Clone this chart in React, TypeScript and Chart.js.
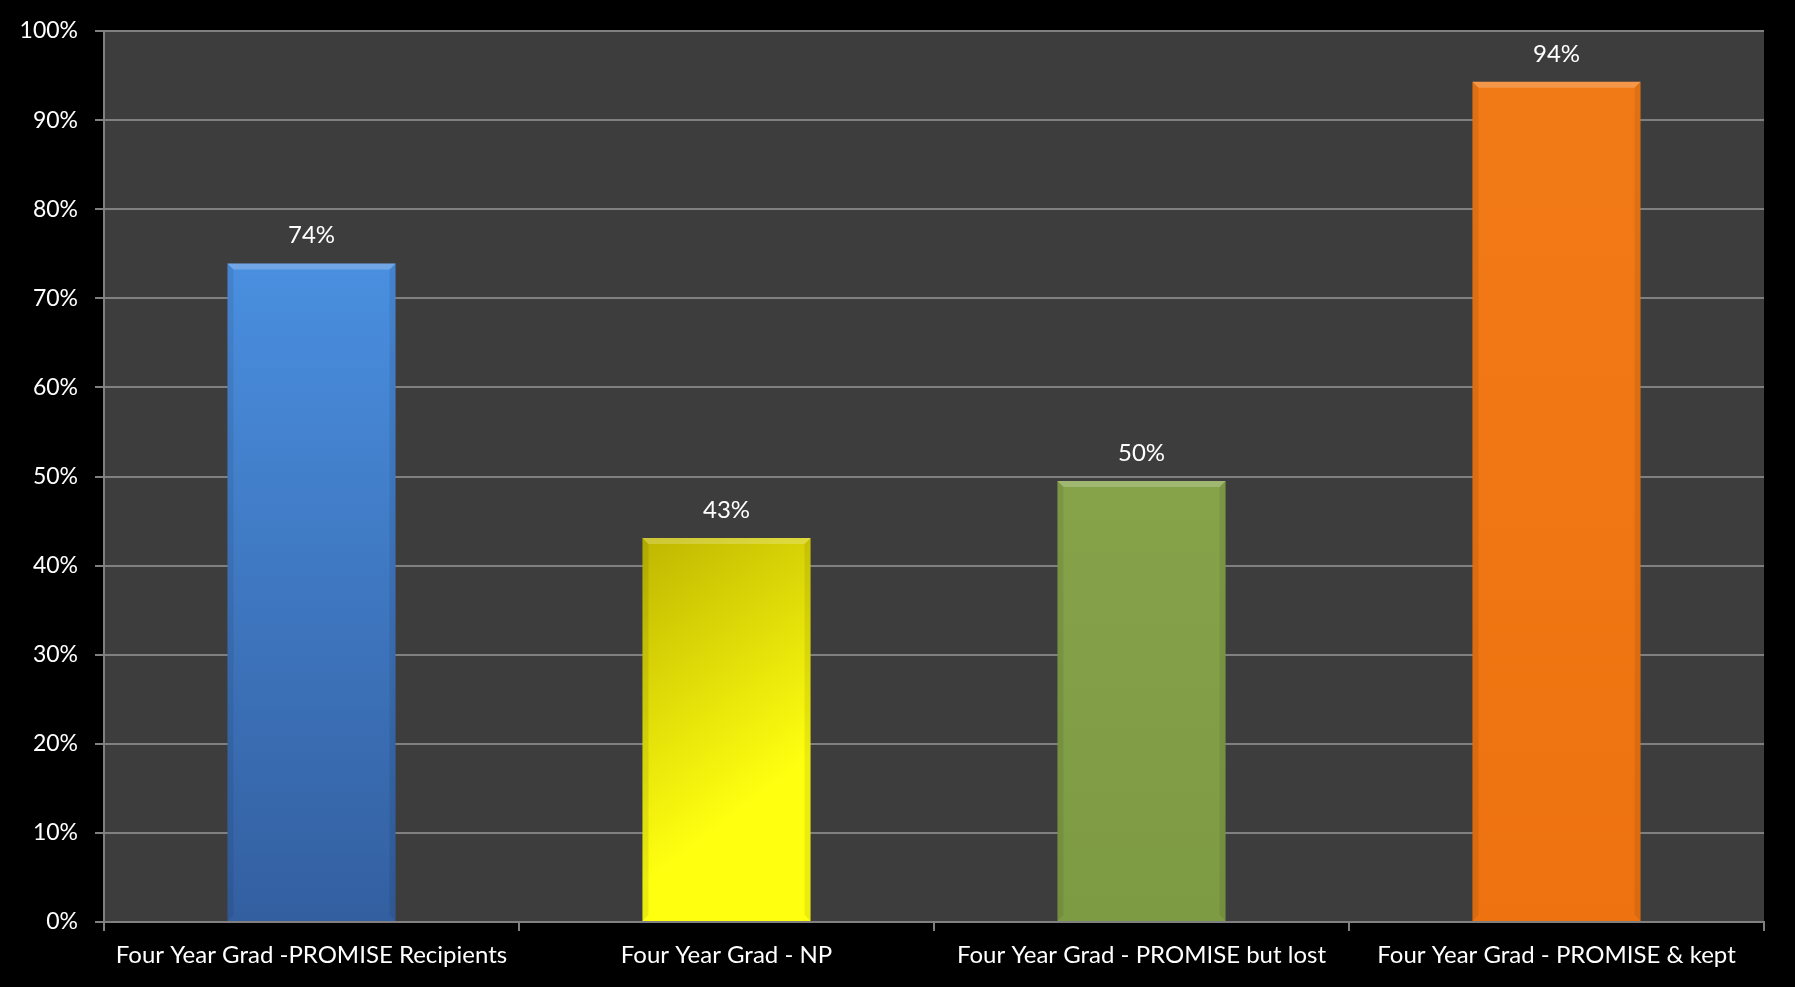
import React, { useEffect, useRef } from "react";
import { Chart, registerables } from "chart.js";

Chart.register(...registerables);

const categories = [
  "Four Year Grad -PROMISE Recipients",
  "Four Year Grad - NP",
  "Four Year Grad - PROMISE but lost",
  "Four Year Grad - PROMISE & kept",
];
const values = [0.739, 0.431, 0.495, 0.943];
const barTopColors = ["#4a8fe0", "#bfb600", "#86a34a", "#f27a16"];
const barBottomColors = ["#335fa0", "#ffff10", "#7d9b43", "#ee7310"];
const yTicks = [0, 0.1, 0.2, 0.3, 0.4, 0.5, 0.6, 0.7, 0.8, 0.9, 1.0];

const FONT = "Lato, 'Open Sans', sans-serif";
const BAR_PCT = 0.405;

const plotBg = {
  id: "plotBg",
  beforeDraw(chart: any) {
    const { ctx, chartArea } = chart;
    ctx.save();
    ctx.fillStyle = "#3d3d3d";
    ctx.fillRect(chartArea.left, chartArea.top, chartArea.right - chartArea.left, chartArea.bottom - chartArea.top);
    ctx.restore();
  },
};

const bevelAndLabels = {
  id: "bevelAndLabels",
  afterDatasetsDraw(chart: any) {
    const { ctx } = chart;
    const meta = chart.getDatasetMeta(0);
    ctx.save();
    meta.data.forEach((bar: any, i: number) => {
      const w = bar.width;
      const left = bar.x - w / 2;
      const right = bar.x + w / 2;
      const top = bar.y;
      const bottom = bar.base;
      const b = 6;
      ctx.fillStyle = "rgba(255,255,255,0.22)";
      ctx.beginPath();
      ctx.moveTo(left, top);
      ctx.lineTo(right, top);
      ctx.lineTo(right - b, top + b);
      ctx.lineTo(left + b, top + b);
      ctx.closePath();
      ctx.fill();
      ctx.fillStyle = "rgba(0,0,0,0.08)";
      ctx.beginPath();
      ctx.moveTo(right, top);
      ctx.lineTo(right, bottom);
      ctx.lineTo(right - b, bottom - b);
      ctx.lineTo(right - b, top + b);
      ctx.closePath();
      ctx.fill();
      ctx.beginPath();
      ctx.moveTo(left, top);
      ctx.lineTo(left, bottom);
      ctx.lineTo(left + b, bottom - b);
      ctx.lineTo(left + b, top + b);
      ctx.closePath();
      ctx.fill();
      ctx.fillStyle = "#ffffff";
      ctx.font = `24px ${FONT}`;
      ctx.textAlign = "center";
      ctx.textBaseline = "middle";
      ctx.fillText(Math.round(values[i] * 100) + "%", bar.x, top - 28);
    });
    ctx.restore();
  },
};

export default function App() {
  const ref = useRef<HTMLCanvasElement>(null);
  useEffect(() => {
    const canvas = ref.current!;
    const chart = new Chart(canvas, {
      type: "bar",
      data: {
        labels: categories,
        datasets: [
          {
            data: values,
            backgroundColor: (c: any) => {
              const i = c.dataIndex;
              const ch = c.chart;
              const area = ch.chartArea;
              if (!area || i === undefined || !ch.scales || !ch.scales.x || !ch.scales.y) return barTopColors[i ?? 0];
              const xs = ch.scales.x;
              const ys = ch.scales.y;
              const x = xs.getPixelForValue(i);
              const y = ys.getPixelForValue(values[i]);
              const base = ys.getPixelForValue(0);
              const width = ((area.right - area.left) / categories.length) * BAR_PCT;
              if (![x, y, base, width].every((v) => Number.isFinite(v))) return barTopColors[i];
              let g;
              if (i === 1) {
                g = ch.ctx.createLinearGradient(x - width / 2, y, x + width / 2, y + width * 1.3);
              } else {
                g = ch.ctx.createLinearGradient(0, y, 0, base);
              }
              g.addColorStop(0, barTopColors[i]);
              g.addColorStop(1, barBottomColors[i]);
              return g;
            },
            borderWidth: 0,
            categoryPercentage: 1,
            barPercentage: BAR_PCT,
          },
        ],
      },
      options: {
        animation: false,
        responsive: false,
        maintainAspectRatio: false,
        layout: { padding: { top: 31, right: 31, left: 0, bottom: 0 } },
        plugins: {
          legend: { display: false },
          tooltip: { enabled: false },
        },
        scales: {
          x: {
            offset: true,
            grid: {
              offset: true,
              drawOnChartArea: false,
              drawTicks: true,
              tickLength: 9,
              color: "#808080",
              lineWidth: 2,
            },
            border: { color: "#808080", width: 2 },
            ticks: {
              color: "#ffffff",
              font: { family: FONT, size: 24 },
              padding: 10,
              maxRotation: 0,
              autoSkip: false,
            },
            afterFit(scale: any) {
              scale.height = 65;
            },
          },
          y: {
            min: 0,
            max: 1,
            afterBuildTicks(scale: any) {
              scale.ticks = yTicks.map((v) => ({ value: v }));
            },
            grid: {
              color: "#808080",
              lineWidth: 2,
              drawTicks: true,
              tickLength: 9,
            },
            border: { color: "#808080", width: 2 },
            ticks: {
              color: "#ffffff",
              font: { family: FONT, size: 23 },
              padding: 17,
              callback: (v: any) => Math.round(Number(v) * 100) + "%",
            },
            afterFit(scale: any) {
              scale.width = 104;
            },
          },
        },
      },
      plugins: [plotBg, bevelAndLabels],
    });
    return () => chart.destroy();
  }, []);
  return (
    <div style={{ position: "fixed", left: 0, top: 0, width: 1795, height: 987, background: "#000" }}>
      <canvas ref={ref} width={1795} height={987} style={{ display: "block" }} />
    </div>
  );
}
